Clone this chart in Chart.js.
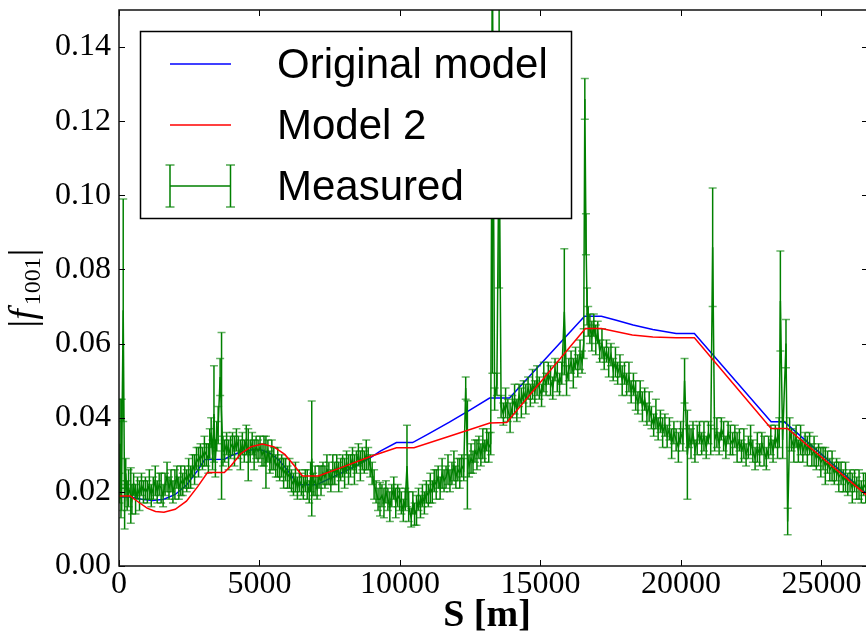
<!DOCTYPE html>
<html><head><meta charset="utf-8">
<script src="https://cdn.jsdelivr.net/npm/chart.js@4"></script>
<style>html,body{margin:0;padding:0;background:#fff;overflow:hidden}#wrap{width:870px;height:634px}</style>
</head><body><div id="wrap"><canvas id="c" width="870" height="634"></canvas></div>
<script>
const xTicks = [0,5000,10000,15000,20000,25000];
const yTicks = [0,0.02,0.04,0.06,0.08,0.10,0.12,0.14];
const seriesNames = ['Original model','Model 2','Measured'];

const origS = [0,400,800,1200,1600,2000,2400,2800,3050,3750,4000,4350,4800,5100,5400,5700,6000,6250,6420,7030,7500,8000,8500,8900,9300,9875,10450,11000,11760,12500,13190,13900,16570,17170,17700,18300,19000,19830,20480,23210,23680,26659];
const origV = [.0186,.0186,.0180,.0177,.0180,.0193,.0218,.0258,.0287,.0288,.0298,.0308,.0314,.0312,.0303,.0285,.0258,.0232,.0219,.0219,.0236,.0254,.0273,.0290,.0310,.0333,.0333,.0356,.0388,.0421,.0453,.0453,.0674,.0674,.0663,.0650,.0638,.0627,.0627,.0389,.0389,.0192];

const m2S = [0,400,700,1000,1300,1600,2000,2400,2800,3150,3750,4000,4350,4700,5100,5500,5900,6250,6530,7100,8000,8900,9875,10500,11760,13200,13800,16600,17170,18270,19000,19830,20480,23210,23790,26659];
const m2V = [.0189,.0189,.0172,.0156,.0147,.0145,.0153,.0175,.0214,.0252,.0252,.0272,.0304,.0322,.0329,.0322,.0301,.0270,.0243,.0243,.0268,.0294,.0319,.0319,.0350,.0386,.0387,.0641,.0641,.0623,.0618,.0616,.0616,.0371,.0371,.0188];

const measS = [
15,40,70,95,150,200,240,290,340,420,460,520,590,660,730,800,870,940,
1010,1080,1150,1220,1290,1360,1430,1500,1570,1640,1710,1780,1850,1920,1990,2060,2130,2200,2270,2340,
2410,2480,2550,2620,2690,2760,2830,2900,2970,3040,3110,3180,
3230,3280,3330,3380,3430,3480,3530,3600,3650,3700,
3760,3830,3900,3970,4040,4110,4180,4250,4320,4390,4460,4530,4600,4670,4740,4810,4880,4950,
5020,5090,5160,5230,5300,5370,5440,5510,5580,5650,5720,5790,5860,5930,6000,6070,6140,6210,6280,6350,6420,6490,
6560,6630,6700,6770,6820,6860,6910,6980,7050,7120,7190,7260,
7330,7400,7470,7540,7610,7680,7750,7820,7890,7960,8030,8100,8170,8240,8310,8380,8450,8520,8590,8660,8730,8800,8870,8940,
9010,9080,9150,9220,9290,9360,9430,9500,9570,9640,9710,9780,9850,9920,9990,
10050,10120,10190,10250,10310,10400,10460,10520,10590,10660,10730,10800,10870,10940,
11010,11080,11150,11220,11290,11360,11430,11500,11570,11640,11710,11780,11850,11920,11990,12060,12130,12200,12270,
12340,12400,12460,12530,12600,12670,12740,12810,12880,12950,13020,13090,13160,13230,
13290,13370,13450,13530,13600,13680,13760,13840,13920,
14000,14080,14160,14240,14320,14400,14480,14560,14640,14720,14800,14880,14960,15040,15120,15200,15280,15360,15440,15520,15600,15680,15760,15850,15930,16010,16090,16170,16250,16330,16410,16480,
16540,16580,16620,16660,16700,16760,16830,16900,16970,17040,
17110,17190,17270,17350,17430,17510,17590,17670,17750,17830,17910,17990,18070,18150,18230,18310,18390,18470,18550,18630,18710,18790,18870,18950,19030,19110,19190,19270,19350,19430,
19510,19590,19670,19750,19830,19910,19990,20070,20130,20230,20290,20360,20430,20500,20580,20660,20740,20820,20900,20980,21060,
21130,
21200,21280,21360,21440,21520,21600,21680,21760,21840,21920,22000,22080,22160,22240,22320,22400,22480,22560,22640,22720,22800,22880,22960,23040,23120,23200,23280,23360,23440,
23500,23540,23620,23740,23800,23870,
23940,24020,24100,24180,24260,24340,24420,24500,24580,24660,24740,24820,24900,24980,25060,25140,25220,25300,25380,25460,25540,25620,25700,25780,25860,25940,26020,26100,26180,26260,26340,26420,26500,26580];

const measV = [
.021,.033,.018,.030,.069,.016,.025,.019,.021,.019,.018,.022,.018,.021,.019,.022,.020,.021,
.020,.022,.019,.021,.023,.020,.022,.021,.019,.022,.024,.021,.023,.020,.022,.024,.021,.023,.022,.024,
.023,.025,.024,.027,.026,.029,.028,.030,.029,.031,.030,.029,
.033,.036,.030,.041,.029,.035,.038,.051,.0405,.031,
.031,.033,.030,.032,.033,.031,.034,.032,.030,.033,.031,.034,.030,.031,.033,.030,.032,.031,
.032,.030,.031,.028,.031,.028,.030,.029,.027,.028,.026,.027,.025,.026,.024,.025,.023,.022,.024,.021,.023,.022,
.021,.023,.022,.020,.024,.029,.022,.023,.021,.024,.023,.025,
.024,.026,.025,.023,.026,.025,.027,.024,.026,.027,.025,.028,.026,.027,.029,.026,.028,.030,.027,.029,.028,.030,.029,.027,
.025,.022,.020,.018,.018,.019,.017,.020,.018,.016,.019,.021,.017,.019,.018,
.017,.015,.018,.027,.016,.013,.017,.014,.015,.018,.016,.019,.017,.020,
.019,.021,.020,.023,.022,.024,.021,.025,.023,.024,.026,.023,.025,.027,.024,.026,.025,.027,.026,
.048,.030,.027,.029,.028,.031,.030,.032,.030,.033,.031,.034,.032,.033,
.160,.045,.049,.120,.043,.041,.044,.042,.040,
.043,.045,.042,.046,.044,.047,.045,.048,.046,.049,.047,.050,.048,.046,.051,.049,.052,.050,.048,.053,.051,.049,.052,.0686,.050,.053,.055,.052,.056,.054,.057,.055,
.060,.126,.0895,.070,.066,.064,.062,.065,.061,.063,
.058,.060,.056,.058,.055,.057,.053,.055,.052,.054,.050,.052,.049,.051,.047,.049,.046,.044,.047,.043,.045,.041,.043,.040,.038,.041,.037,.039,.036,.038,
.035,.037,.033,.036,.034,.032,.036,.034,.050,.030,.035,.033,.036,.031,.034,.036,.033,.035,.032,.036,.034,
.086,
.034,.036,.033,.037,.035,.032,.036,.034,.033,.035,.032,.034,.031,.033,.030,.032,.034,.031,.029,.032,.030,.033,.031,.029,.032,.034,.031,.035,.033,
.036,.0715,.034,.060,.012,.036,
.034,.032,.035,.031,.034,.031,.033,.031,.033,.030,.031,.029,.030,.028,.029,.027,.028,.026,.027,.025,.026,.024,.025,.023,.024,.022,.023,.021,.023,.021,.022,.020,.022,.021];

const measE = [
.004,.012,.005,.015,.030,.006,.004,.004,.005,.0075,.004,.003,.004,.003,.004,.003,.003,.003,
.003,.004,.003,.003,.004,.003,.003,.004,.003,.003,.004,.003,.003,.003,.004,.003,.003,.004,.003,.003,
.003,.004,.003,.003,.004,.003,.004,.003,.003,.004,.003,.004,
.004,.004,.004,.013,.005,.004,.005,.005,.0225,.004,
.003,.003,.004,.003,.003,.004,.003,.003,.004,.003,.003,.004,.007,.003,.003,.004,.003,.003,
.003,.003,.004,.007,.003,.003,.004,.003,.003,.004,.003,.003,.004,.003,.003,.004,.003,.003,.004,.003,.003,.003,
.003,.003,.004,.003,.004,.0155,.003,.004,.003,.003,.004,.003,
.003,.004,.003,.003,.004,.003,.003,.004,.003,.003,.004,.003,.004,.003,.003,.004,.003,.003,.004,.003,.003,.004,.003,.003,
.003,.004,.003,.003,.0045,.003,.004,.003,.003,.004,.003,.003,.004,.003,.003,
.003,.003,.003,.011,.004,.0025,.003,.003,.004,.003,.003,.003,.003,.003,
.003,.004,.003,.003,.004,.003,.003,.004,.003,.003,.004,.003,.003,.004,.003,.003,.004,.003,.003,
.003,.0146,.003,.004,.003,.003,.004,.003,.003,.004,.003,.003,.004,.003,
.108,.003,.003,.045,.003,.003,.004,.003,.004,
.003,.004,.003,.003,.004,.003,.004,.003,.003,.004,.003,.004,.003,.003,.004,.003,.003,.004,.003,.003,.004,.003,.003,.017,.004,.003,.003,.004,.003,.003,.004,.003,
.004,.0055,.0055,.005,.004,.004,.004,.003,.004,.003,
.003,.004,.003,.003,.004,.003,.003,.004,.003,.003,.004,.003,.003,.004,.003,.003,.004,.003,.003,.004,.003,.003,.004,.003,.003,.004,.003,.003,.004,.003,
.003,.003,.004,.003,.003,.004,.003,.003,.006,.012,.003,.004,.003,.003,.004,.003,.003,.004,.003,.003,.004,
.016,
.003,.004,.003,.003,.004,.003,.003,.004,.003,.003,.004,.003,.003,.004,.003,.003,.004,.003,.003,.004,.003,.003,.004,.003,.003,.004,.003,.003,.004,
.004,.0135,.005,.0065,.0036,.004,
.003,.004,.003,.003,.004,.003,.003,.004,.003,.003,.004,.003,.003,.004,.003,.005,.003,.003,.004,.003,.003,.004,.003,.003,.004,.003,.003,.004,.003,.003,.004,.003,.003,.004];

function pts(s,v){const n=Math.min(s.length,v.length);const a=[];for(let i=0;i<n;i++)a.push({x:s[i],y:v[i]});return a;}

const errPlugin = {
  id:'errbars',
  afterDatasetDraw(chart,args){
    if(args.index!==2) return;
    const ctx=chart.ctx, a=chart.chartArea, xs=chart.scales.x, ys=chart.scales.y;
    ctx.save(); ctx.beginPath(); ctx.rect(a.left,a.top,a.right-a.left,a.bottom-a.top); ctx.clip();
    ctx.lineWidth=1.5;
    const n=Math.min(measS.length,measV.length,measE.length);
    for(let i=0;i<n;i++){
      const px=xs.getPixelForValue(measS[i]);
      const lo=ys.getPixelForValue(measV[i]-measE[i]);
      const hi=ys.getPixelForValue(measV[i]+measE[i]);
      ctx.strokeStyle='#008000';
      ctx.beginPath(); ctx.moveTo(px,lo); ctx.lineTo(px,hi); ctx.stroke();
      ctx.strokeStyle='rgba(0,128,0,0.6)';
      ctx.beginPath(); ctx.moveTo(px-4,lo); ctx.lineTo(px+4,lo); ctx.moveTo(px-4,hi); ctx.lineTo(px+4,hi); ctx.stroke();
    }
    ctx.restore();
  }
};

const framePlugin = {
  id:'frame',
  afterDraw(chart){
    const ctx=chart.ctx, a=chart.chartArea, xs=chart.scales.x, ys=chart.scales.y;
    ctx.save();
    ctx.strokeStyle='#000'; ctx.lineWidth=1;
    const L=6;
    ctx.beginPath();
    xTicks.forEach(v=>{const p=Math.round(xs.getPixelForValue(v))+0.5; ctx.moveTo(p,a.bottom); ctx.lineTo(p,a.bottom-L); ctx.moveTo(p,a.top); ctx.lineTo(p,a.top+L);});
    yTicks.forEach(v=>{const p=Math.round(ys.getPixelForValue(v))+0.5; ctx.moveTo(a.left,p); ctx.lineTo(a.left+L,p); ctx.moveTo(a.right,p); ctx.lineTo(a.right-L,p);});
    ctx.stroke();
    ctx.lineWidth=1.5; ctx.strokeStyle='#111';
    ctx.strokeRect(a.left,a.top,a.right-a.left,a.bottom-a.top);
    // legend
    const bx=140.5, by=31.5, bw=431, bh=187;
    ctx.fillStyle='#fff'; ctx.fillRect(bx,by,bw,bh);
    ctx.strokeStyle='#000'; ctx.lineWidth=1.5; ctx.strokeRect(bx,by,bw,bh);
    const ds=chart.data.datasets;
    const rows=[64,125,186];
    ctx.lineWidth=1.5;
    ctx.strokeStyle=ds[0].borderColor; ctx.beginPath(); ctx.moveTo(170,rows[0]); ctx.lineTo(231,rows[0]); ctx.stroke();
    ctx.strokeStyle=ds[1].borderColor; ctx.beginPath(); ctx.moveTo(170,rows[1]); ctx.lineTo(231,rows[1]); ctx.stroke();
    ctx.strokeStyle=ds[2].borderColor; ctx.beginPath(); ctx.moveTo(170,rows[2]); ctx.lineTo(231,rows[2]);
    [170,230.5].forEach(px=>{ctx.moveTo(px,165);ctx.lineTo(px,207);});
    ctx.stroke();
    ctx.strokeStyle='rgba(0,128,0,0.7)'; ctx.beginPath();
    [170,230.5].forEach(px=>{ctx.moveTo(px-4.5,165);ctx.lineTo(px+4.5,165);ctx.moveTo(px-4.5,207);ctx.lineTo(px+4.5,207);});
    ctx.stroke();
    ctx.fillStyle='#000'; ctx.font="42px 'Liberation Sans'"; ctx.textBaseline='middle'; ctx.textAlign='left';
    for(let i=0;i<3;i++) ctx.fillText(ds[i].label,277,rows[i]+2);
    // x title
    ctx.font="bold 38px 'Liberation Serif'"; ctx.textAlign='center'; ctx.textBaseline='alphabetic';
    ctx.fillText('S [m]',487,626);
    // y title
    ctx.translate(35,288); ctx.rotate(-Math.PI/2);
    const fm="38px 'Liberation Serif'", fi="italic 38px 'Liberation Serif'", fs="24px 'Liberation Serif'";
    ctx.font=fm; const w1=ctx.measureText('|').width;
    ctx.font=fi; const w2=ctx.measureText('f').width+4;
    ctx.font=fs; const w3=ctx.measureText('1001').width+1;
    const tot=w1+w2+w3+w1; let cx=-tot/2;
    ctx.textAlign='left';
    ctx.font=fm; ctx.fillText('|',cx,0); cx+=w1;
    ctx.font=fi; ctx.fillText('f',cx,0); cx+=w2;
    ctx.font=fs; ctx.fillText('1001',cx,5); cx+=w3;
    ctx.font=fm; ctx.fillText('|',cx,0);
    ctx.restore();
  }
};

new Chart(document.getElementById('c'), {
  type:'scatter',
  data:{datasets:[
    {label:seriesNames[0], data:pts(origS,origV), borderColor:'#0000ff', backgroundColor:'#0000ff', borderWidth:1.5, showLine:true, pointRadius:0, order:3},
    {label:seriesNames[1], data:pts(m2S,m2V), borderColor:'#ff0000', backgroundColor:'#ff0000', borderWidth:1.5, showLine:true, pointRadius:0, order:1},
    {label:seriesNames[2], data:pts(measS,measV), borderColor:'#008000', backgroundColor:'#008000', borderWidth:1.5, showLine:true, pointRadius:0, order:2}
  ]},
  options:{
    responsive:false, animation:false, events:[],
    layout:{padding:{top:10,right:2,left:0,bottom:0}},
    plugins:{legend:{display:false},tooltip:{enabled:false}},
    scales:{
      x:{type:'linear',min:0,max:26659,
        afterBuildTicks:s=>{s.ticks=xTicks.map(v=>({value:v}));},
        afterFit:s=>{s.height=68;s.paddingLeft=0;s.paddingRight=0;s.paddingTop=0;s.paddingBottom=0;},
        grid:{display:false,drawTicks:false}, border:{display:false},
        ticks:{color:'#000',font:{family:"'Liberation Serif'",size:32},padding:-1,maxRotation:0,autoSkip:false,callback:v=>String(v)}
      },
      y:{type:'linear',min:0,max:0.15,
        afterBuildTicks:s=>{s.ticks=yTicks.map(v=>({value:v}));},
        afterFit:s=>{s.width=119;s.paddingTop=0;s.paddingBottom=0;s.paddingLeft=0;s.paddingRight=0;},
        grid:{display:false,drawTicks:false}, border:{display:false},
        ticks:{color:'#000',font:{family:"'Liberation Serif'",size:32},padding:8,autoSkip:false,callback:v=>Number(v).toFixed(2)}
      }
    }
  },
  plugins:[errPlugin,framePlugin]
});
</script></body></html>
